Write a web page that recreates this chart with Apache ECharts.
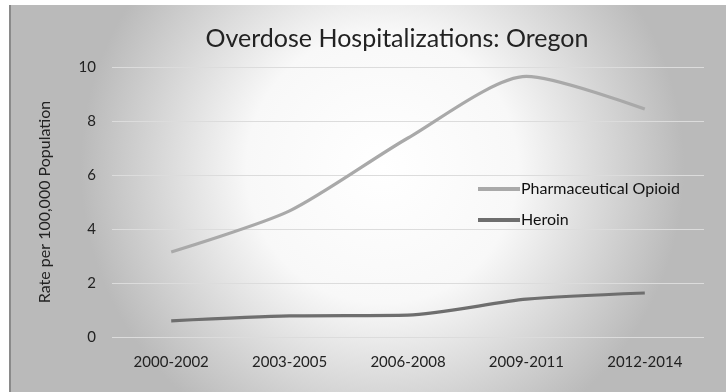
<!DOCTYPE html>
<html>
<head>
<meta charset="utf-8">
<script src="https://cdn.jsdelivr.net/npm/echarts@6/dist/echarts.min.js"></script>
<style>
  html, body { margin: 0; padding: 0; background: #ffffff; }
  #chart { width: 726px; height: 392px; }
</style>
</head>
<body>
<div id="chart"></div>
<script>
// Three-year periods on the category axis
const periods = ['2000-2002', '2003-2005', '2006-2008', '2009-2011', '2012-2014'];
// Hospitalization rates per 100,000 population
const pharmaceuticalOpioid = [3.15, 4.67, 7.37, 9.65, 8.44];
const heroin = [0.6, 0.78, 0.81, 1.4, 1.63];
// Value axis ticks
const yMin = 0, yMax = 10, yStep = 2;

const FONT = 'Lato';

const chart = echarts.init(document.getElementById('chart'));
chart.setOption({
  backgroundColor: '#ffffff',
  animation: false,
  graphic: [
    {
      type: 'rect', z: -10, silent: true,
      shape: { x: 10, y: 5, width: 716, height: 387 },
      style: {
        fill: {
          type: 'radial', x: 0.52, y: 0.42, r: 0.78,
          colorStops: [
            { offset: 0, color: '#ffffff' },
            { offset: 0.45, color: '#f8f8f8' },
            { offset: 1, color: '#bababa' }
          ]
        }
      }
    },
    {
      type: 'rect', z: -9, silent: true,
      shape: { x: 9, y: 5, width: 2, height: 387 },
      style: { fill: '#8a8a8a' }
    }
  ],
  title: {
    text: 'Overdose Hospitalizations: Oregon',
    left: 392, top: 21, textAlign: 'center',
    textStyle: { fontFamily: FONT, fontSize: 25, fontWeight: 'normal', color: '#222222' }
  },
  legend: {
    orient: 'vertical',
    left: 473, top: 176,
    itemWidth: 42, itemHeight: 4, itemGap: 15,
    icon: 'rect',
    textStyle: { fontFamily: FONT, fontSize: 16, color: '#111111', padding: [0, 0, 0, -4] },
    data: ['Pharmaceutical Opioid', 'Heroin']
  },
  grid: { left: 112, right: 22, top: 67, bottom: 55, containLabel: false },
  xAxis: {
    type: 'category',
    data: periods,
    boundaryGap: true,
    axisLine: { show: false },
    axisTick: { show: false },
    axisLabel: { fontFamily: FONT, fontSize: 15, color: '#222222', margin: 18 }
  },
  yAxis: {
    type: 'value',
    min: yMin, max: yMax, interval: yStep,
    name: 'Rate per 100,000 Population',
    nameLocation: 'middle',
    nameGap: 59,
    nameRotate: 90,
    nameTextStyle: { fontFamily: FONT, fontSize: 16, color: '#222222' },
    axisLine: { show: false },
    axisTick: { show: false },
    axisLabel: { fontFamily: FONT, fontSize: 15, color: '#222222', margin: 16 },
    splitLine: { lineStyle: { color: '#dcdcdc', width: 1 } }
  },
  series: [
    {
      name: 'Pharmaceutical Opioid',
      type: 'line',
      data: pharmaceuticalOpioid,
      smooth: 0.25,
      symbol: 'none',
      color: '#a9a9a9',
      lineStyle: { width: 3.2, color: '#a9a9a9' }
    },
    {
      name: 'Heroin',
      type: 'line',
      data: heroin,
      smooth: 0.25,
      symbol: 'none',
      color: '#6e6e6e',
      lineStyle: { width: 3.2, color: '#6e6e6e' }
    }
  ]
});
</script>
</body>
</html>
